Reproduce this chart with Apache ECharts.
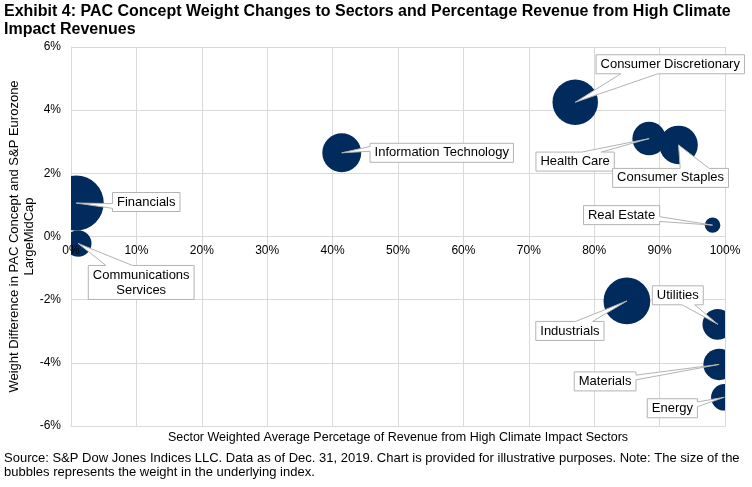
<!DOCTYPE html>
<html lang="en">
	<head>
		<meta charset="UTF-8" />
		<title>PAC Concept Weight Changes</title>
		<script src="https://cdn.jsdelivr.net/npm/echarts@6/dist/echarts.min.js"></script>
		<style>
			html, body { margin: 0; padding: 0; background: #fff; }
		</style>
	</head>
	<body>
		<div id="main" style="width: 752px; height: 487px"></div>
		<script type="text/javascript">
			// Sector data read from the exhibit
			const sectors = [
				"Financials",
				"Communications\nServices",
				"Information Technology",
				"Consumer Discretionary",
				"Health Care",
				"Consumer Staples",
				"Real Estate",
				"Industrials",
				"Utilities",
				"Materials",
				"Energy",
			];
			// % of revenue from high climate impact sectors
			const revenuePct = [0.8, 1.1, 41.4, 77.1, 88.4, 92.9, 98.1, 85.0, 98.9, 99.1, 99.9];
			// weight difference PAC Concept vs S&P Eurozone LargeMidCap (%)
			const weightDiff = [1.06, -0.22, 2.65, 4.25, 3.1, 2.9, 0.36, -2.04, -2.78, -4.05, -5.09];
			// weight in the underlying index (%), drives bubble size
			const indexWeight = [20.2, 4.7, 10.1, 13.8, 7.5, 9.9, 1.6, 14.6, 6.3, 6.6, 4.7];

			const xTicks = [0, 10, 20, 30, 40, 50, 60, 70, 80, 90, 100];
			const yTicks = [-6, -4, -2, 0, 2, 4, 6];

			// callout box offset from bubble centre, in pixels
			const calloutOffset = [
				[70, -1], [63, 39], [100, 0], [95, -38], [-74, 23], [-8, 33],
				[-91, -10], [-57, 30], [-40, -29], [-114, 17], [-52, 11],
			];

			const FONT = "Arial, 'Liberation Sans', sans-serif";
			const bubbleScale = 6.12;
			const lineH = 15;
			const gridTop = 47, gridBottom = 61, chartH = 487;

			const ctx = document.createElement("canvas").getContext("2d");
			ctx.font = "13px " + FONT;
			function textWidth(s) {
				return Math.max(...s.split("\n").map((l) => ctx.measureText(l).width));
			}

			// Office-style wedge rectangle callout outline
			function calloutPoints(l, t, w, h, tx, ty) {
				const r = l + w, b = t + h;
				const hc = l + w / 2, vc = t + h / 2;
				const dx = tx - hc, dy = ty - vc;
				const dz = Math.abs(dy) - Math.abs((dx * h) / w);
				const x1 = l + (w * (dx > 0 ? 7 : 2)) / 12;
				const x2 = l + (w * (dx > 0 ? 10 : 5)) / 12;
				const y1 = t + (h * (dy > 0 ? 7 : 2)) / 12;
				const y2 = t + (h * (dy > 0 ? 10 : 5)) / 12;
				const pts = [[l, t]];
				if (dz > 0 && dy < 0) pts.push([x1, t], [tx, ty], [x2, t]);
				pts.push([r, t]);
				if (dz <= 0 && dx > 0) pts.push([r, y1], [tx, ty], [r, y2]);
				pts.push([r, b]);
				if (dz > 0 && dy > 0) pts.push([x2, b], [tx, ty], [x1, b]);
				pts.push([l, b]);
				if (dz <= 0 && dx < 0) pts.push([l, y2], [tx, ty], [l, y1]);
				return pts;
			}

			const points = sectors.map((s, i) => [revenuePct[i], weightDiff[i], indexWeight[i]]);

			const xRange = { type: "value", min: xTicks[0], max: xTicks[xTicks.length - 1], interval: 10 };
			const yMin = yTicks[0], yMax = yTicks[yTicks.length - 1];
			// distance from the plot bottom up to the y = 0 line
			const zeroLift = ((chartH - gridTop - gridBottom) * (0 - yMin)) / (yMax - yMin);

			let options = {
				animation: false,
				textStyle: { fontFamily: FONT },
				title: {
					text: "Exhibit 4: PAC Concept Weight Changes to Sectors and Percentage Revenue from High Climate\nImpact Revenues",
					left: 4,
					top: 2,
					padding: 0,
					textStyle: { fontFamily: FONT, fontSize: 16, fontWeight: "bold", color: "#000", lineHeight: 18.5 },
				},
				graphic: [
					{
						type: "text",
						x: 398,
						y: 437.5,
						style: {
							text: "Sector Weighted Average Percetage of Revenue from High Climate Impact Sectors",
							font: "12.5px " + FONT,
							fill: "#000",
							align: "center",
							verticalAlign: "middle",
						},
					},
					{
						type: "text",
						x: 4,
						y: 451,
						style: {
							text: "Source: S&P Dow Jones Indices LLC. Data as of Dec. 31, 2019. Chart is provided for illustrative purposes. Note: The size of the\nbubbles represents the weight in the underlying index.",
							font: "13px " + FONT,
							fill: "#000",
							lineHeight: 14.5,
						},
					},
				],
				grid: { left: 71, right: 27, top: gridTop, bottom: gridBottom, containLabel: false, outerBoundsMode: "none" },
				xAxis: [
					Object.assign({}, xRange, {
						position: "bottom",
						axisLine: { onZero: false, lineStyle: { color: "#d9d9d9" } },
						axisTick: { show: false },
						axisLabel: { show: false },
						splitLine: { lineStyle: { color: "#d9d9d9" } },
					}),
					// tick labels only, sitting on the zero line, drawn above the bubbles
					Object.assign({}, xRange, {
						position: "bottom",
						offset: -zeroLift,
						z: 10,
						axisLine: { show: false, onZero: false },
						axisTick: { show: false },
						axisLabel: { formatter: "{value}%", color: "#000", fontSize: 12, margin: 8 },
						splitLine: { show: false },
					}),
				],
				yAxis: {
					type: "value",
					min: yMin,
					max: yMax,
					interval: 2,
					name: "Weight Difference in PAC Concept and S&P Eurozone\nLargeMidCap",
					nameLocation: "middle",
					nameGap: 34.5,
					nameMoveOverlap: false,
					nameTextStyle: { color: "#000", fontSize: 13, lineHeight: 15 },
					axisLine: { show: true, lineStyle: { color: "#d9d9d9" } },
					axisTick: { show: false },
					axisLabel: { formatter: "{value}%", color: "#000", fontSize: 12, margin: 10 },
					splitLine: { lineStyle: { color: "#d9d9d9" } },
				},
				series: [
					{
						name: "bubbles",
						type: "custom",
						clip: true,
						data: points,
						renderItem: (params, api) => {
							const c = api.coord([api.value(0), api.value(1)]);
							return {
								type: "circle",
								shape: { cx: c[0], cy: c[1], r: bubbleScale * Math.sqrt(api.value(2)) },
								style: { fill: "#002b5c" },
							};
						},
					},
					{
						name: "callouts",
						type: "custom",
						data: points,
						z: 5,
						renderItem: (params, api) => {
							const i = params.dataIndex;
							const c = api.coord([api.value(0), api.value(1)]);
							const label = sectors[i];
							const nLines = label.split("\n").length;
							const w = textWidth(label) + 9;
							const h = nLines * lineH + 4;
							const cx = c[0] + calloutOffset[i][0];
							const cy = c[1] + calloutOffset[i][1];
							return {
								type: "group",
								children: [
									{
										type: "polygon",
										shape: { points: calloutPoints(cx - w / 2, cy - h / 2, w, h, c[0], c[1]) },
										style: { fill: "#fff", stroke: "#b3b3b3", lineWidth: 1 },
									},
									{
										type: "text",
										x: cx,
										y: cy,
										style: {
											text: label,
											font: "13px " + FONT,
											fill: "#000",
											align: "center",
											verticalAlign: "middle",
											lineHeight: lineH,
										},
									},
								],
							};
						},
					},
				],
			};

			let myChart = echarts.init(document.getElementById("main"));
			myChart.setOption(options);
		</script>
	</body>
</html>
